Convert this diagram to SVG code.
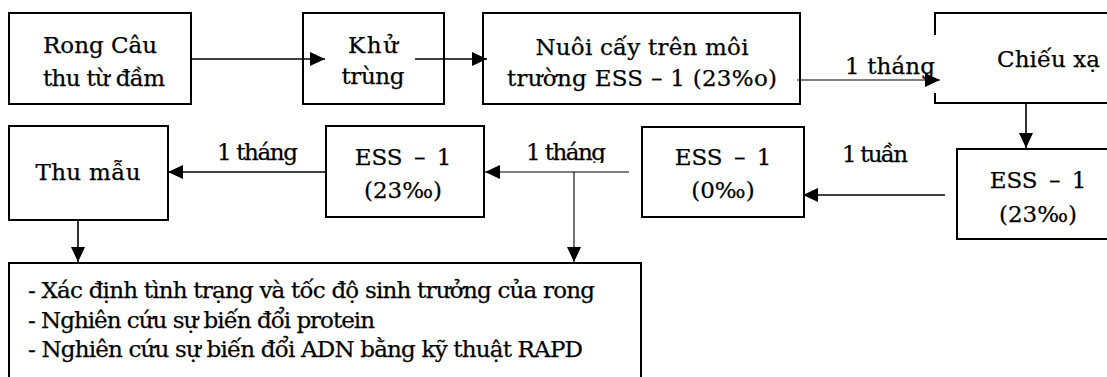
<svg xmlns="http://www.w3.org/2000/svg" width="1107" height="377" viewBox="0 0 1107 377">
  <style>
    .box { fill: #fff; stroke: #000; stroke-width: 2; }
    .t { font-family: "DejaVu Serif", "Liberation Serif", serif; font-size: 23px; fill: #000; stroke: #000; stroke-width: 0.25; }
    .c { text-anchor: middle; }
    .ess { word-spacing: 4px; }
    .ln { stroke: #000; stroke-width: 1.6; fill: none; }
    .thin { stroke: #000; stroke-width: 1.1; fill: none; }
    .bg { fill: #fff; stroke: none; }
  </style>
  <defs>
    <marker id="ah" markerUnits="userSpaceOnUse" markerWidth="15" markerHeight="14" refX="15" refY="7" orient="auto">
      <path d="M0,0 L15,7 L0,14 Z" fill="#000"/>
    </marker>
    <clipPath id="clipMid">
      <rect x="515" y="130" width="110" height="33"/>
    </clipPath>
  </defs>
  <rect width="1107" height="377" fill="#fff"/>

  <g id="node-rong-cau">
    <rect class="box" x="9" y="13" width="182" height="91"/>
    <text class="t c" x="100" y="53" textLength="114">Rong Câu</text>
    <text class="t c" x="104" y="86" textLength="122">thu từ đầm</text>
  </g>
  <g id="node-khu-trung">
    <rect class="box" x="303" y="13" width="141" height="91"/>
    <text class="t c" x="373" y="53" textLength="50">Khử</text>
    <text class="t c" x="373" y="84" textLength="63">trùng</text>
  </g>
  <g id="node-nuoi-cay">
    <rect class="box" x="483" y="13" width="317" height="91"/>
    <text class="t c" x="642" y="55" textLength="213">Nuôi cấy trên môi</text>
    <text class="t c" x="642" y="86" textLength="270">trường ESS – 1 (23%o)</text>
  </g>
  <g id="node-chieu-xa">
    <rect class="box" x="935" y="13" width="190" height="90"/>
    <text class="t" x="997" y="67" textLength="103">Chiếu xạ</text>
  </g>
  <g id="node-ess-23-right">
    <rect class="box" x="957" y="149" width="170" height="90"/>
    <text class="t c ess" x="1038" y="188">ESS – 1</text>
    <text class="t c" x="1038" y="222">(23‰)</text>
  </g>
  <g id="node-ess-0">
    <rect class="box" x="642" y="127" width="162" height="90"/>
    <text class="t c ess" x="723" y="165">ESS – 1</text>
    <text class="t c" x="723" y="198">(0‰)</text>
  </g>
  <g id="node-ess-23-mid">
    <rect class="box" x="326" y="126" width="158" height="91"/>
    <text class="t c ess" x="403" y="165">ESS – 1</text>
    <text class="t c" x="403" y="198">(23‰)</text>
  </g>
  <g id="node-thu-mau">
    <rect class="box" x="9" y="126" width="159" height="94"/>
    <text class="t c" x="88" y="180" textLength="105">Thu mẫu</text>
  </g>
  <g id="node-ket-qua">
    <rect class="box" x="9" y="263" width="632" height="130"/>
    <text class="t" x="28" y="298" textLength="567">- Xác định tình trạng và tốc độ sinh trưởng của rong</text>
    <text class="t" x="28" y="328" textLength="347">- Nghiên cứu sự biến đổi protein</text>
    <text class="t" x="28" y="357" textLength="555">- Nghiên cứu sự biến đổi ADN bằng kỹ thuật RAPD</text>
  </g>

  <g id="labels">
    <rect class="bg" x="839" y="35" width="98" height="58"/>
    <text class="t" x="845" y="74" textLength="90">1 tháng</text>
    <text class="t" x="217" y="160" textLength="81">1 tháng</text>
    <text class="t" x="526" y="160" textLength="80" clip-path="url(#clipMid)">1 tháng</text>
    <text class="t" x="842" y="162" textLength="66">1 tuần</text>
  </g>

  <g id="connectors">
    <line class="ln" x1="191" y1="59" x2="325" y2="59" marker-end="url(#ah)"/>
    <line class="ln" x1="415" y1="59" x2="487" y2="59" marker-end="url(#ah)"/>
    <line class="thin" x1="797" y1="80" x2="940" y2="80" marker-end="url(#ah)"/>
    <line class="ln" x1="1026" y1="103" x2="1026" y2="148" marker-end="url(#ah)"/>
    <line class="ln" x1="945" y1="195" x2="803" y2="195" marker-end="url(#ah)"/>
    <line class="thin" x1="629" y1="172" x2="485" y2="172" marker-end="url(#ah)"/>
    <line class="ln" x1="326" y1="172" x2="168" y2="172" marker-end="url(#ah)"/>
    <line class="ln" x1="78" y1="220" x2="78" y2="262" marker-end="url(#ah)"/>
    <line class="thin" x1="574" y1="172" x2="574" y2="262" marker-end="url(#ah)"/>
  </g>
</svg>
